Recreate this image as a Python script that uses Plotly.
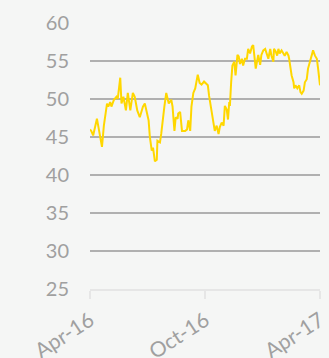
import plotly.graph_objects as go

dates = [
    "2016-04-01", "2016-04-03", "2016-04-06", "2016-04-12", "2016-04-14", "2016-04-17",
    "2016-04-20", "2016-04-23", "2016-04-28", "2016-04-30", "2016-05-03", "2016-05-05",
    "2016-05-09", "2016-05-13", "2016-05-15", "2016-05-19", "2016-05-21", "2016-05-24",
    "2016-05-28", "2016-05-31", "2016-06-04", "2016-06-08", "2016-06-11", "2016-06-15",
    "2016-06-19", "2016-06-24", "2016-06-27", "2016-07-03", "2016-07-05", "2016-07-08",
    "2016-07-10", "2016-07-13", "2016-07-16", "2016-07-17", "2016-07-21", "2016-07-23",
    "2016-07-25", "2016-07-28", "2016-07-31", "2016-08-02", "2016-08-04", "2016-08-08",
    "2016-08-10", "2016-08-13", "2016-08-15", "2016-08-18", "2016-08-19", "2016-08-22",
    "2016-08-25", "2016-08-30", "2016-09-02", "2016-09-04", "2016-09-07", "2016-09-09",
    "2016-09-12", "2016-09-15", "2016-09-17", "2016-09-19", "2016-09-22", "2016-09-25",
    "2016-09-29", "2016-10-05", "2016-10-07", "2016-10-11", "2016-10-14", "2016-10-16",
    "2016-10-19", "2016-10-22", "2016-10-24", "2016-10-27", "2016-10-30", "2016-11-01",
    "2016-11-04", "2016-11-06", "2016-11-08", "2016-11-09", "2016-11-11", "2016-11-13",
    "2016-11-16", "2016-11-18", "2016-11-21", "2016-11-23", "2016-11-25", "2016-11-28",
    "2016-11-30", "2016-12-03", "2016-12-06", "2016-12-08", "2016-12-11", "2016-12-14",
    "2016-12-16", "2016-12-20", "2016-12-24", "2016-12-27", "2016-12-29", "2017-01-01",
    "2017-01-04", "2017-01-06", "2017-01-09", "2017-01-12", "2017-01-14", "2017-01-17",
    "2017-01-18", "2017-01-21", "2017-01-23", "2017-01-25", "2017-01-27", "2017-01-30",
    "2017-02-02", "2017-02-04", "2017-02-07", "2017-02-10", "2017-02-11", "2017-02-12",
    "2017-02-15", "2017-02-18", "2017-02-19", "2017-02-21", "2017-02-24", "2017-02-27",
    "2017-03-01", "2017-03-03", "2017-03-06", "2017-03-08", "2017-03-11", "2017-03-13",
    "2017-03-16", "2017-03-19", "2017-03-21", "2017-03-24", "2017-03-27", "2017-03-29",
    "2017-04-01",
]

values = [
    46.0, 45.8, 45.2, 47.4, 46.5, 45.0,
    43.7, 46.5, 49.4, 49.0, 49.6, 49.0,
    49.9, 50.3, 50.0, 52.8, 49.4, 50.3,
    48.5, 50.8, 48.5, 50.8, 50.3, 48.5,
    47.6, 49.0, 49.4, 47.2, 45.0, 43.2,
    43.6, 41.8, 42.0, 44.5, 44.3, 45.4,
    47.2, 49.0, 50.8, 49.9, 49.4, 49.9,
    49.0, 45.8, 47.6, 47.4, 48.1, 48.3,
    45.8, 45.8, 46.0, 47.2, 45.8, 49.0,
    50.8, 51.4, 52.5, 53.2, 52.1, 51.9,
    52.3, 51.8, 50.4, 48.2, 46.5, 45.8,
    46.5, 45.4, 46.3, 46.9, 46.5, 49.1,
    48.6, 47.3, 49.6, 49.1, 52.2, 54.4,
    54.9, 53.1, 55.8, 55.6, 54.6, 55.3,
    54.4, 55.3, 55.3, 56.6, 56.0, 56.9,
    57.1, 54.0, 55.8, 54.5, 55.8, 56.4,
    56.6, 56.0, 55.3, 56.6, 55.7, 54.9,
    56.6, 56.2, 55.7, 56.6, 56.0, 56.4,
    56.0, 55.7, 56.2, 55.7, 55.3, 54.6,
    53.1, 52.2, 51.4, 51.8, 51.4, 51.8,
    50.9, 50.7, 51.1, 52.2, 52.6, 54.0,
    54.9, 55.7, 56.4, 55.7, 55.3, 54.0,
    51.8,
]

y_ticks = [25, 30, 35, 40, 45, 50, 55, 60]

fig = go.Figure()
fig.add_trace(go.Scatter(
    x=dates, y=values, mode="lines",
    line=dict(color="#FFD700", width=2),
    hoverinfo="skip",
))

fig.update_layout(
    width=329, height=358,
    margin=dict(l=90, r=9, t=23, b=69),
    paper_bgcolor="#f5f6f5",
    plot_bgcolor="#f5f6f5",
    font=dict(family="Lato", color="#a0a0a0"),
    showlegend=False,
)
fig.update_xaxes(
    range=["2016-04-01", "2017-04-01"],
    tickvals=["2016-04-01", "2016-10-01", "2017-04-01"],
    tickformat="%b-%y",
    tickangle=-33,
    tickfont=dict(size=21, color="#a0a0a0"),
    showgrid=False,
    showline=True, linecolor="#e6e6e6", linewidth=2,
    ticks="outside", ticklen=8, tickwidth=2, tickcolor="#e6e6e6",
    zeroline=False,
    automargin=False,
    ticklabelstandoff=1,
)
fig.update_yaxes(
    range=[25, 60],
    tickvals=y_ticks,
    tickfont=dict(size=20, color="#a0a0a0"),
    showgrid=True, gridcolor="#b0b0b0", gridwidth=2,
    zeroline=False,
    automargin=False,
    ticklabelstandoff=20,
)

fig.write_html("out.html")
